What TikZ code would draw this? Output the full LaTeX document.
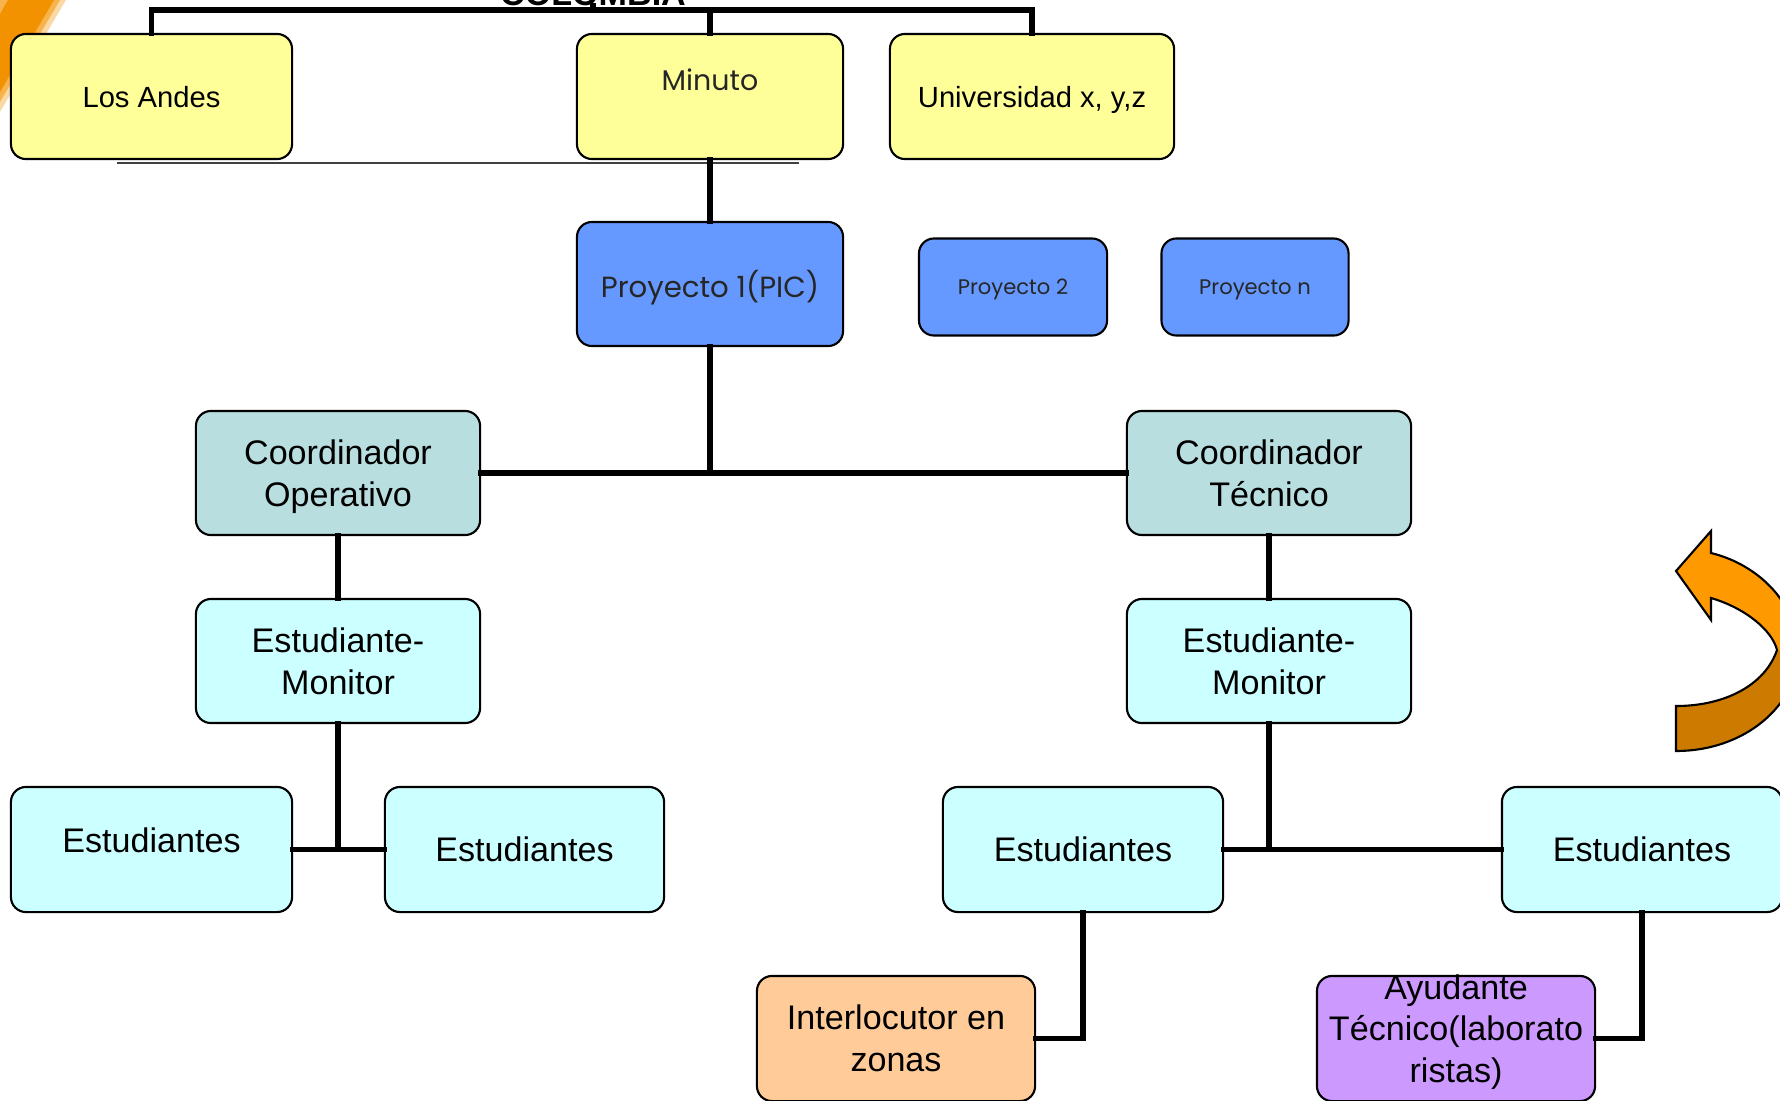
\documentclass[tikz,border=0pt]{standalone}
\usepackage{fontspec}
\setmainfont{Liberation Sans}
\newfontfamily\gothic{Poppins}
\definecolor{yel}{HTML}{FFFF99}
\definecolor{pblue}{HTML}{6699FF}
\definecolor{coordc}{HTML}{B9DEE0}
\definecolor{lcyan}{HTML}{CCFFFF}
\definecolor{peach}{HTML}{FFCC99}
\definecolor{lilac}{HTML}{CC99FF}
\definecolor{arrowor}{HTML}{FF9900}
\definecolor{arrowdk}{HTML}{CC7A00}
\definecolor{cornor}{HTML}{F39200}
\begin{document}
\begin{tikzpicture}[x=0.01cm,y=-0.01cm,
  box/.style={draw=black, line width=0.6pt, rounded corners=0.15cm, inner sep=0pt,
    align=center, minimum height=1.25cm, text depth=-1.2pt, font=\fontsize{9.7}{11.9}\selectfont},
  topfont/.style={font=\fontsize{8.3}{10}\selectfont},
  conn/.style={line width=1.6pt, line cap=rect},
  wide/.style={minimum width=2.81cm},
  wider/.style={minimum width=2.84cm}]
\useasboundingbox (0,0) rectangle (1780,1100);
\clip (0,0) rectangle (1780,1100);
\fill[white] (0,0) rectangle (1780,1100);
% orange corner decoration
\fill[cornor!35] (0,0) -- (66,0) -- (0,112) -- cycle;
\fill[cornor!70] (0,0) -- (60,0) -- (0,102) -- cycle;
\fill[cornor] (8,0) -- (54,0) -- (0,92) -- (0,14) -- cycle;
% cut title
\node[font=\bfseries\fontsize{9.7}{11}\selectfont, anchor=base, inner sep=0pt] (col) at (593,5) {COLOMBIA};
\coordinate (bar) at (593,10);
% top boxes
\node[box, fill=yel, wide, topfont] (andes) at (151.5,96.5) {Los Andes};
\node[box, fill=yel, minimum width=2.66cm] (minuto) at (710,96.5) {};
\node[font=\gothic\fontsize{8.1}{10}\selectfont, text=black!85, inner sep=0pt] (minutoT) at (710,80) {Minuto};
\node[box, fill=yel, wider, topfont] (univ) at (1032,96.5) {Universidad x, y,z};
\coordinate (ulA) at (117,163);
\coordinate (ulB) at (799,163);
\draw[line width=0.8pt, black!75] (ulA) -- (ulB);
% projects
\node[box, fill=pblue, minimum width=2.66cm, minimum height=1.24cm, font=\gothic\fontsize{8.3}{10}\selectfont, text=black!85] (p1) at (710,284) {Proyecto 1(PIC)};
\node[box, fill=pblue, minimum width=1.88cm, minimum height=0.97cm, font=\gothic\fontsize{6}{8}\selectfont, text=black!85] (p2) at (1013,287) {Proyecto 2};
\node[box, fill=pblue, minimum width=1.87cm, minimum height=0.97cm, font=\gothic\fontsize{6}{8}\selectfont, text=black!85] (pn) at (1255,287) {Proyecto n};
% coordinators
\node[box, fill=coordc, wider, minimum height=1.24cm] (cop) at (338,473) {Coordinador\\Operativo};
\node[box, fill=coordc, wider, minimum height=1.24cm] (ctec) at (1269,473) {Coordinador\\T\'ecnico};
% monitors
\node[box, fill=lcyan, wider, minimum height=1.24cm] (monL) at (338,661) {Estudiante-\\Monitor};
\node[box, fill=lcyan, wider, minimum height=1.24cm] (monR) at (1269,661) {Estudiante-\\Monitor};
% students
\node[box, fill=lcyan, wide] (estL1) at (151.5,849.5) {};
\node[inner sep=0pt, font=\fontsize{9.7}{11.9}\selectfont] (estL1T) at (151.5,840) {Estudiantes};
\node[box, fill=lcyan, minimum width=2.79cm] (estL2) at (524.5,849.5) {Estudiantes};
\node[box, fill=lcyan, minimum width=2.80cm] (estR1) at (1083,849.5) {Estudiantes};
\node[box, fill=lcyan, minimum width=2.80cm] (estR2) at (1642,849.5) {Estudiantes};
% bottom
\node[box, fill=peach, minimum width=2.78cm] (inter) at (896,1038.5) {Interlocutor en\\zonas};
\node[box, fill=lilac, minimum width=2.78cm] (ayud) at (1456,1038.5) {};
\node[inner sep=0pt, align=center, font=\fontsize{9.7}{11.9}\selectfont] (ayudT) at (1456,1032) {Ayudante\\T\'ecnico(laborato\\ristas)};
% connectors
\draw[conn] (andes.north) |- (bar) -| (univ.north);
\draw[conn] (minuto.north) -- (minuto.north |- bar);
\draw[conn] (col.south) -- (bar);
\draw[conn] (minuto.south) -- (p1.north);
\draw[conn] (cop.east) -- (ctec.west);
\draw[conn] (p1.south) -- (p1.south |- cop.east);
\draw[conn] (cop.south) -- (monL.north);
\draw[conn] (monL.south) -- (monL.south |- estL1.east);
\draw[conn] (estL1.east) -- (estL2.west);
\draw[conn] (ctec.south) -- (monR.north);
\draw[conn] (monR.south) -- (monR.south |- estR1.east);
\draw[conn] (estR1.east) -- (estR2.west);
\draw[conn] (estR1.south) |- (inter.east);
\draw[conn] (estR2.south) |- (ayud.east);
% curved arrow
\fill[arrowor] (1676,751) .. controls (1745,751) and (1798,705) .. (1798,652)
  .. controls (1798,605) and (1760,565) .. (1711,553) -- (1711,531) -- (1676,571)
  -- (1711,620) -- (1711,598) .. controls (1745,608) and (1772,630) .. (1777,650)
  .. controls (1765,685) and (1725,706) .. (1676,706) -- cycle;
\fill[arrowdk] (1676,751) .. controls (1745,751) and (1798,705) .. (1798,652)
  -- (1777,650) .. controls (1765,685) and (1725,706) .. (1676,706) -- cycle;
\draw[line width=0.6pt] (1676,751) .. controls (1745,751) and (1798,705) .. (1798,652)
  .. controls (1798,605) and (1760,565) .. (1711,553) -- (1711,531) -- (1676,571)
  -- (1711,620) -- (1711,598) .. controls (1745,608) and (1772,630) .. (1777,650)
  .. controls (1765,685) and (1725,706) .. (1676,706) -- cycle;
\end{tikzpicture}
\end{document}
